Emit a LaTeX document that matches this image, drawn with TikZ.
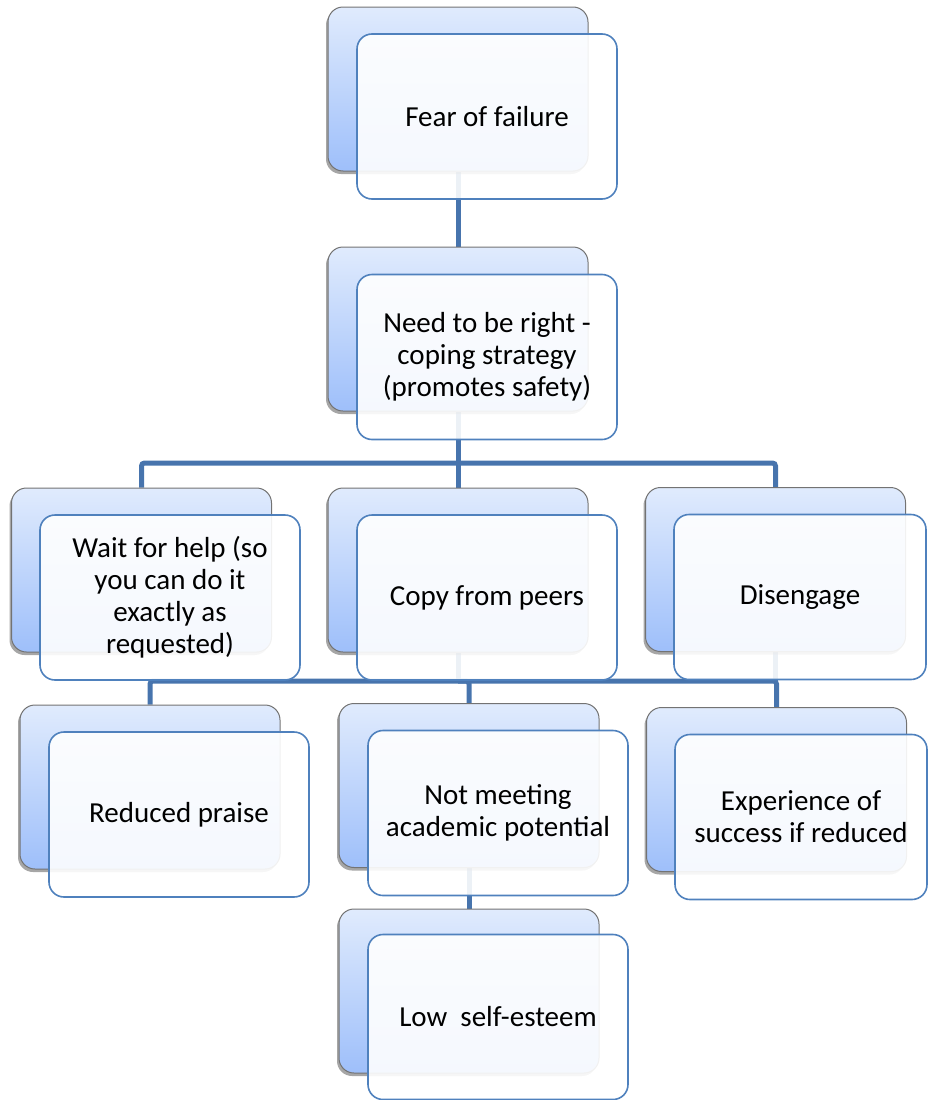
\documentclass[tikz,border=0pt]{standalone}
\usepackage{fontspec}
\setmainfont{Carlito}
\usetikzlibrary{shadows,backgrounds}
\definecolor{linkblue}{RGB}{71,116,173}
\definecolor{frameblue}{RGB}{79,129,189}
\definecolor{backtop}{RGB}{224,235,253}
\definecolor{backbot}{RGB}{158,191,250}

\begin{document}
\begin{tikzpicture}[x=1pt,y=-1pt,
  backbox/.style={rounded corners=15pt, minimum width=260pt, minimum height=164pt,
    draw=black!55, line width=1pt, top color=backtop, bottom color=backbot,
    drop shadow={shadow xshift=-2pt, shadow yshift=-3pt, opacity=0.35, fill=black}},
  frontbox/.style={rounded corners=15pt, minimum width=260pt, minimum height=165pt,
    draw=frameblue, line width=1.6pt, fill=white, fill opacity=0.9, text opacity=1,
    align=center, font=\fontsize{29}{32}\selectfont},
  narrowbox/.style={frontbox, minimum width=252pt},
  link/.style={draw=linkblue, line width=5pt, rounded corners=3pt}]
\useasboundingbox (0,0) rectangle (927,1100);

% level 1
\node[backbox] (b1) at (458,89) {};
\node[frontbox] (f1) at (487,116.5) {Fear of failure};
% level 2
\node[backbox] (b2) at (458,329) {};
\node[frontbox] (f2) at (487,357) {Need to be right -\\coping strategy\\(promotes safety)};
% level 3
\node[backbox] (b3a) at (141.5,570) {};
\node[frontbox] (f3a) at (170,597.5) {Wait for help (so\\you can do it\\exactly as\\requested)};
\node[backbox] (b3b) at (458,570) {};
\node[frontbox] (f3b) at (487,597.5) {Copy from peers};
\node[backbox] (b3c) at (775.5,569.5) {};
\node[narrowbox] (f3c) at (800,597) {Disengage};
% level 4
\node[backbox] (b4a) at (150,787) {};
\node[frontbox] (f4a) at (179,814.5) {Reduced praise};
\node[backbox] (b4b) at (469,785.5) {};
\node[frontbox] (f4b) at (498,813) {Not meeting\\academic potential};
\node[backbox] (b4c) at (776.5,789.5) {};
\node[narrowbox] (f4c) at (801,817) {Experience of\\success if reduced};
% level 5
\node[backbox] (b5) at (469,991) {};
\node[frontbox] (f5) at (498,1017) {Low\ \ self-esteem};

% connectors, kept behind the boxes
\begin{pgfonlayer}{background}
  \coordinate (j1) at (458,463);
  \coordinate (j2) at (458,681);
  \draw[link] (b1.south) -- (b2.north);
  \draw[link] (b2.south) -- (j1);
  \draw[link] (b3a.north) |- (j1);
  \draw[link] (b3b.north) -- (j1);
  \draw[link] (b3c.north) |- (j1);
  \draw[link] (b3b.south) -- (j2);
  \draw[link] (b3c.south) -- (b3c.south |- j2);
  \draw[link] (b4a.north) |- (j2);
  \draw[link] (b4b.north) |- (j2);
  \draw[link] (b4c.north) |- (j2);
  \draw[link] (b4b.south) -- (b5.north);
\end{pgfonlayer}
\end{tikzpicture}
\end{document}
